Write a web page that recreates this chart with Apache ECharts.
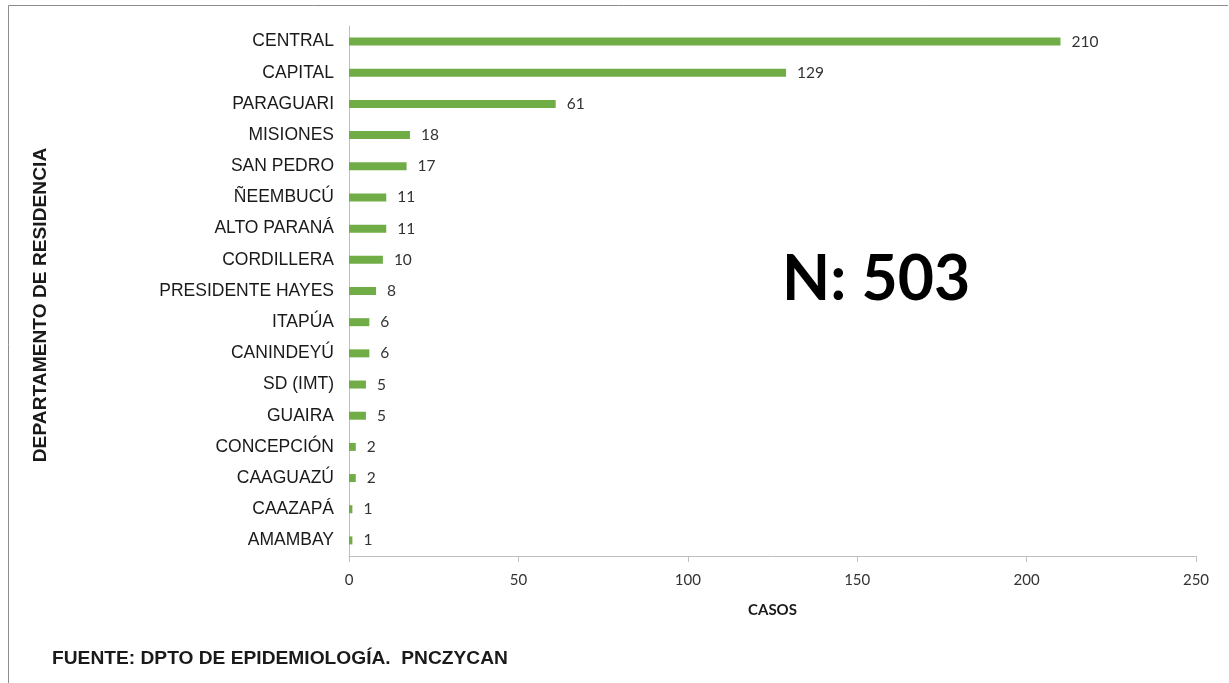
<!DOCTYPE html>
<html>
<head>
<meta charset="utf-8">
<script src="https://cdn.jsdelivr.net/npm/echarts@6/dist/echarts.min.js"></script>
<style>
    html, body { margin: 0; padding: 0; background: #fff; }
    #chart { width: 1229px; height: 683px; }
</style>
</head>
<body>
<div id="chart"></div>
<script>
// departamentos, de abajo hacia arriba (eje de categorias)
var departamentos = ['AMAMBAY', 'CAAZAPÁ', 'CAAGUAZÚ', 'CONCEPCIÓN', 'GUAIRA', 'SD (IMT)', 'CANINDEYÚ', 'ITAPÚA',
    'PRESIDENTE HAYES', 'CORDILLERA', 'ALTO PARANÁ', 'ÑEEMBUCÚ', 'SAN PEDRO', 'MISIONES', 'PARAGUARI', 'CAPITAL', 'CENTRAL'];
var casos = [1, 1, 2, 2, 5, 5, 6, 6, 8, 10, 11, 11, 17, 18, 61, 129, 210];
var ejeX = [0, 250, 50]; // min, max, intervalo

var chart = echarts.init(document.getElementById('chart'));
chart.setOption({
    backgroundColor: '#fff',
    animation: false,
    grid: {left: 349, right: 33, top: 26, bottom: 127},
    xAxis: {
        type: 'value',
        min: ejeX[0], max: ejeX[1], interval: ejeX[2],
        name: 'CASOS',
        nameLocation: 'middle',
        nameGap: 47,
        nameTextStyle: {fontFamily: 'Lato', fontWeight: 'bold', fontSize: 15, color: '#1a1a1a'},
        axisLine: {show: true, lineStyle: {color: '#bfbfbf', width: 1}},
        axisTick: {show: true, length: 6, lineStyle: {color: '#bfbfbf'}},
        axisLabel: {fontFamily: 'Lato', fontSize: 15, color: '#333', margin: 17},
        splitLine: {show: false}
    },
    yAxis: {
        type: 'category',
        data: departamentos,
        axisLine: {show: true, lineStyle: {color: '#bfbfbf', width: 1}},
        axisTick: {show: false},
        axisLabel: {fontFamily: 'Liberation Sans', fontSize: 17.5, color: '#1a1a1a', margin: 15}
    },
    series: [{
        type: 'bar',
        data: casos,
        barWidth: 8,
        itemStyle: {color: '#70ad47'},
        label: {
            show: true,
            position: 'right',
            distance: 11,
            fontFamily: 'Lato',
            fontSize: 15.5,
            color: '#333'
        }
    }],
    graphic: [
        {
            type: 'polyline',
            shape: {points: [[8.5, 683], [8.5, 5.5], [1228, 5.5]]},
            style: {stroke: '#8c8c8c', fill: null, lineWidth: 1}
        },
        {
            // titulo del eje vertical
            type: 'text',
            x: 41, y: 305,
            rotation: Math.PI / 2,
            style: {text: 'DEPARTAMENTO DE RESIDENCIA', fontFamily: 'Liberation Sans', fontWeight: 'bold', fontSize: 19.2,
                fill: '#1a1a1a', align: 'center', verticalAlign: 'middle'}
        },
        {
            type: 'text',
            left: 782, top: 248,
            style: {text: 'N: 503', fontFamily: 'Lato', fontWeight: 'bold', fontSize: 62.5, fill: '#000'}
        },
        {
            type: 'text',
            left: 52, top: 649,
            style: {text: 'FUENTE: DPTO DE EPIDEMIOLOGÍA.  PNCZYCAN', fontFamily: 'Liberation Sans', fontWeight: 'bold', fontSize: 19.2, fill: '#1a1a1a'}
        }
    ]
});
</script>
</body>
</html>
